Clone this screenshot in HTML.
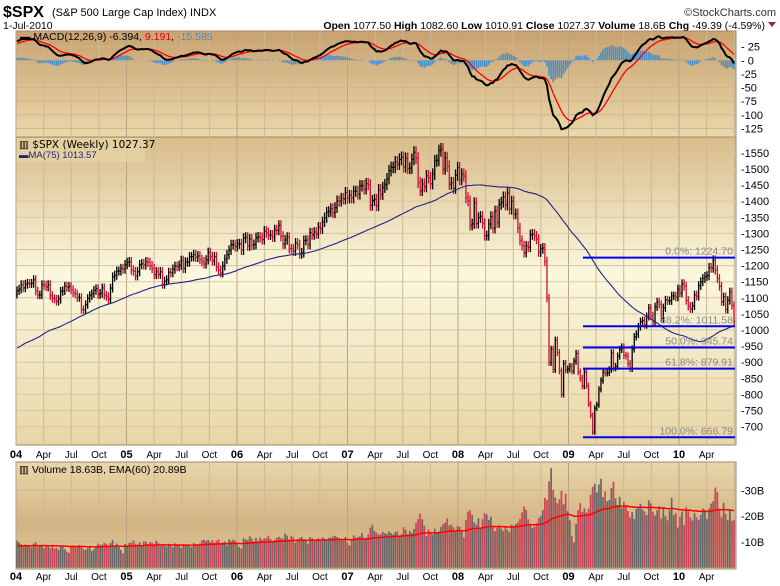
<!DOCTYPE html>
<html><head><meta charset="utf-8"><style>
body{margin:0;background:#fff;width:780px;height:586px;overflow:hidden;font-family:"Liberation Sans",sans-serif}
svg{display:block}
</style></head><body>
<svg id="chart" width="780" height="586" xmlns="http://www.w3.org/2000/svg" font-family="Liberation Sans, sans-serif">
<defs>
<linearGradient id="gPrice" x1="0" y1="0" x2="0" y2="1"><stop offset="0" stop-color="#d9bc89"/><stop offset="0.45" stop-color="#fbf8df"/><stop offset="1" stop-color="#e8d6a6"/></linearGradient>
<linearGradient id="gMacd" x1="0" y1="0" x2="0" y2="1"><stop offset="0" stop-color="#c8a270"/><stop offset="1" stop-color="#ead8ab"/></linearGradient>
<linearGradient id="gVol" x1="0" y1="0" x2="0" y2="1"><stop offset="0" stop-color="#e8d7aa"/><stop offset="0.6" stop-color="#d3b383"/><stop offset="1" stop-color="#e3cea0"/></linearGradient>
</defs>
<text x="3" y="17" font-size="16" font-weight="bold">$SPX</text>
<text x="52" y="16" font-size="11">(S&amp;P 500 Large Cap Index) INDX</text>
<text x="776" y="16" font-size="11" text-anchor="end" fill="#333">©StockCharts.com</text>
<text x="3" y="29" font-size="10.5">1-Jul-2010</text>
<text x="765" y="29" font-size="10.5" text-anchor="end"><tspan font-weight="bold">Open</tspan> 1077.50 <tspan font-weight="bold">High</tspan> 1082.60 <tspan font-weight="bold">Low</tspan> 1010.91 <tspan font-weight="bold">Close</tspan> 1027.37 <tspan font-weight="bold">Volume</tspan> 18.6B <tspan font-weight="bold">Chg</tspan> -49.39 (-4.59%)</text>
<path d="M768 22 L776 22 L772 27 Z" fill="#a0203a"/>
<rect x="16" y="31" width="720" height="106" fill="url(#gMacd)" stroke="#9a8a70"/>
<rect x="16" y="137" width="720" height="308" fill="url(#gPrice)" stroke="#9a8a70"/>
<rect x="16" y="462" width="720" height="107" fill="url(#gVol)" stroke="#9a8a70"/>
<g id="grid"></g><g id="series"></g><g id="labels"></g>
<text x="20" y="40" font-size="10.5"><tspan font-weight="bold">▬</tspan> MACD(12,26,9) -6.394, <tspan fill="#e00">9.191</tspan>, <tspan fill="#4a8fc8">-15.585</tspan></text>
<rect x="17" y="138" width="128" height="24" fill="#e9d8a9" opacity="0.6"/>
<text x="19" y="148" font-size="10.5" font-family="DejaVu Sans, sans-serif">▥ $SPX (Weekly) 1027.37</text>
<text x="19" y="158" font-size="9.5" fill="#22227a">▬MA(75) 1013.57</text>
<text x="19" y="473" font-size="10.5">▥ Volume 18.63B, EMA(60) 20.89B</text>
</svg>
<script>
const warmCloses=[1027,1007,989,989,921,847,852,864,908,928,940,917,893,889,846,827,800,835,884,897,900,909,930,936,902,890,895,880,927,901,861,855,829,834,851,841,828,858,895,863,868,890,893,917,930,944,933,963,987,995,981,976,985,998,981,990,980,990,993,1008,1021,1018,1036,997,1029,1038,1039,1028,1050,1059,1050,1035,1058,1061,1074,1088,1095,1111];
const closes=[
1122,1127,1141,1131,1142,1145,1144,1145,1156,1121,1109,1109,1141,1139,1134,1141,1107,1098,1096,1089,1095,1120,1122,1136,1132,1135,1125,1116,1112,1101,1101,1064,1063,1079,1098,1107,1113,1123,1128,1110,1114,1131,1108,1104,1095,1130,1165,1170,1183,1183,1191,1189,1203,1210,1212,
1186,1182,1168,1181,1203,1206,1202,1212,1210,1200,1191,1172,1181,1173,1181,1142,1152,1156,1179,1178,1189,1198,1197,1201,1216,1191,1211,1211,1227,1228,1234,1226,1230,1219,1212,1205,1218,1241,1228,1215,1228,1196,1186,1177,1199,1220,1234,1248,1265,1265,1259,1267,1268,1248,
1285,1288,1261,1283,1264,1266,1287,1289,1287,1281,1307,1302,1295,1295,1289,1311,1310,1325,1291,1267,1280,1288,1253,1252,1245,1270,1265,1236,1240,1278,1279,1266,1302,1296,1304,1299,1319,1314,1336,1349,1366,1368,1377,1364,1380,1401,1400,1409,1407,1427,1410,1418,
1410,1431,1431,1422,1448,1448,1438,1455,1451,1387,1402,1406,1386,1436,1421,1443,1452,1470,1495,1505,1505,1522,1515,1530,1536,1507,1533,1502,1503,1530,1552,1534,1458,1433,1453,1445,1479,1473,1454,1484,1525,1527,1557,1562,1500,1535,1509,1453,1458,1440,1481,1504,1467,1484,1478,
1411,1401,1325,1330,1395,1331,1349,1353,1331,1293,1293,1329,1352,1316,1370,1333,1390,1397,1413,1388,1425,1375,1400,1360,1361,1317,1278,1262,1240,1261,1257,1296,1298,1292,1282,1242,1252,1255,1213,1099,899,940,877,968,930,873,800,896,876,879,887,873,903,
927,870,850,826,869,827,770,735,683,757,768,816,843,870,866,867,877,929,882,887,919,940,947,921,919,896,880,941,979,987,1010,1026,1029,1016,1042,1068,1044,1026,1072,1087,1079,1036,1069,1093,1091,1091,1106,1106,1102,1127,
1115,1144,1136,1092,1074,1066,1075,1109,1105,1138,1150,1160,1166,1169,1194,1192,1217,1186,1160,1136,1088,1103,1064,1092,1118,1076,1027];
const volumes=[
10.5,9.8,9.2,8.6,9.0,8.8,8.5,7.9,9.4,9.9,8.2,8.8,8.9,7.7,8.5,8.3,7.6,8.9,7.5,7.8,7.0,8.4,8.7,7.2,6.3,5.8,8.1,8.6,7.9,8.4,8.8,8.3,7.3,6.9,7.6,7.8,6.6,7.2,8.0,9.4,8.9,9.0,9.7,9.3,8.7,9.6,10.8,8.6,9.4,8.1,7.0,5.6,9.3,8.8,9.6,
9.8,10.6,9.4,9.0,9.9,8.8,10.3,10.1,9.2,10.0,9.7,8.8,10.5,9.6,8.4,9.1,8.9,8.2,9.3,9.0,8.0,9.5,8.8,8.6,7.7,9.1,8.7,8.9,8.4,8.0,9.6,9.2,8.9,9.4,10.7,10.9,10.4,10.8,10.0,10.7,9.6,10.5,11.0,9.4,9.8,10.2,8.7,11.0,10.3,10.9,10.5,9.2,8.1,7.4,
11.5,11.0,10.8,12.2,11.3,10.2,11.6,10.5,11.8,10.9,11.3,11.6,12.4,11.2,10.4,10.9,11.7,12.0,11.5,11.3,13.3,12.5,11.0,12.4,11.8,9.7,11.2,11.6,12.0,11.1,10.5,9.3,11.9,11.5,10.3,11.1,11.4,10.8,11.8,11.3,10.9,11.6,11.7,12.1,12.4,11.9,11.5,11.0,10.6,11.9,9.8,8.7,
11.0,12.6,11.8,11.9,12.2,13.4,11.7,11.6,12.9,15.5,16.7,14.3,13.6,12.8,13.0,13.9,13.4,13.2,14.1,13.5,12.9,13.8,14.1,12.4,13.0,15.8,14.9,13.1,14.3,13.5,15.0,17.3,19.0,21.0,18.8,16.3,12.3,14.9,14.0,12.9,15.2,13.5,14.1,15.8,16.9,17.5,19.2,16.4,16.8,15.7,14.1,16.2,15.8,13.9,11.8,
18.5,21.8,22.3,20.5,17.6,16.7,19.2,15.4,18.8,21.3,20.7,18.5,19.8,16.1,14.2,15.5,16.5,15.2,14.3,16.0,14.7,13.8,16.7,16.0,17.0,17.6,19.0,21.5,23.8,22.4,18.8,16.9,15.4,15.9,17.3,19.3,20.1,22.4,27.1,26.3,33.5,38.6,30.2,27.3,25.0,26.6,29.8,24.6,28.7,22.0,18.4,12.4,9.8,
17.0,22.4,25.1,21.7,23.0,21.4,22.9,28.3,31.4,32.6,29.2,32.3,34.5,27.4,29.6,25.8,26.3,30.9,33.3,26.9,24.4,27.5,23.3,25.5,24.1,22.0,19.5,21.6,18.9,22.8,23.5,24.8,22.6,21.8,20.4,26.2,25.0,21.7,20.3,22.3,24.0,19.1,23.6,20.1,18.4,22.3,27.1,20.4,21.2,15.6,
19.8,21.8,16.5,23.6,22.0,19.6,18.3,21.2,19.5,18.5,20.5,23.0,22.5,18.9,23.0,24.9,25.8,31.1,29.4,22.4,19.6,25.2,20.9,18.4,22.5,18.2,18.6];
const priceTicks=[700,750,800,850,900,950,1000,1050,1100,1150,1200,1250,1300,1350,1400,1450,1500,1550];
const macdTicks=[25,0,-25,-50,-75,-100,-125];
const volTicks=[10,20,30];
const fibLevels=[1224.70,1011.58,945.74,879.91,666.79];
const fibLabels=["0.0%: 1224.70","38.2%: 1011.58","50.0%: 945.74","61.8%: 879.91","100.0%: 666.79"];
const quarterLabels=["Apr","Jul","Oct"];
const yearLabels=["04","05","06","07","08","09","10"];

const NS="http://www.w3.org/2000/svg";
function mk(tag,attrs,parent){const e=document.createElementNS(NS,tag);for(const k in attrs)e.setAttribute(k,attrs[k]);parent.appendChild(e);return e;}
const grid=document.getElementById('grid'),ser=document.getElementById('series'),lab=document.getElementById('labels');
const L=16,R=736;
const n=closes.length;
const xi=i=>17+i*(734-17)/(n-1);
const xDate=(yr,m)=>16+(yr+(m)/12)*110.5;
const yP=v=>330-(v-1000)*0.322;
const yM=v=>60.3-v*0.545;
const yV=v=>567.8-v*2.58;

for(let y=0;y<7;y++){for(let q=0;q<4;q++){const x=xDate(y,q*3);if(x>R)continue;
 [[31,137],[137,445],[462,569]].forEach(p=>{const g=mk('line',{x1:x,x2:x,y1:p[0],y2:p[1],stroke:q==0?'#b9a383':'#cdb993','stroke-width':1},grid);
 
 });
 if(x>728)continue;
 [458,580].forEach(ty=>{const t=mk('text',{x:x,y:ty,'font-size':q==0?11:10,'font-weight':q==0?'bold':'normal','text-anchor':'middle'},lab);
 t.textContent=q==0?yearLabels[y]:quarterLabels[q-1];
 
 });}}
priceTicks.forEach(v=>{const y=yP(v);const g=mk('line',{x1:L,x2:R,y1:y,y2:y,stroke:'#d8c79d'},grid);
 
 
 const t=mk('text',{x:741,y:y+4,'font-size':11},lab);t.textContent='-'+v;
 
 });
macdTicks.forEach(v=>{const y=yM(v);const g=mk('line',{x1:L,x2:R,y1:y,y2:y,stroke:'#cfb58a'},grid);
 
 
 const t=mk('text',{x:741,y:y+4,'font-size':11},lab);t.textContent=(v<0?'':'-')+(v<0?v:' '+v);
 
 });
volTicks.forEach(v=>{const y=yV(v);const g=mk('line',{x1:L,x2:R,y1:y,y2:y,stroke:'#cdb48a'},grid);
 
 
 const t=mk('text',{x:741,y:y+4,'font-size':11},lab);t.textContent='-'+v+'B';
 
 });

const all=warmCloses.concat(closes);const W=warmCloses.length;
let maPts=[];for(let i=0;i<n;i++){const j=W+i;let s=0,c=0;for(let k=Math.max(0,j-74);k<=j;k++){s+=all[k];c++;}maPts.push(xi(i).toFixed(1)+','+yP(s/c).toFixed(1));}
const bw=1.7;
for(let i=0;i<n;i++){const v=volumes[i]!==undefined?volumes[i]:10;const prev=i?closes[i-1]:warmCloses[W-1];
 const r=mk('rect',{x:xi(i)-bw/2,y:yV(v),width:bw,height:567.8-yV(v),fill:closes[i]<prev?'#cc4455':'#666'},ser);
 
 }
let e=volumes[0],emaPts=[];for(let i=0;i<n;i++){const v=volumes[i]!==undefined?volumes[i]:10;e=i?e+(v-e)*2/61:8.5;emaPts.push(xi(i).toFixed(1)+','+yV(e).toFixed(1));}
const ve=mk('polyline',{points:emaPts.join(' '),fill:'none',stroke:'#ff0000','stroke-width':1.5},ser);


let e12=all[0],e26=all[0],sig=0,mP=[],sP=[];
for(let j=0;j<all.length;j++){e12+=(all[j]-e12)*2/13;e26+=(all[j]-e26)*2/27;const m=e12-e26;sig+=(m-sig)*2/10;
 if(j>=W){const i=j-W,x=xi(i),h=m-sig;
  const b=mk('rect',{x:x-0.8,y:Math.min(yM(0),yM(h)),width:1.6,height:Math.abs(yM(h)-yM(0)),fill:'#4a8fc8'},ser);
  
  
  mP.push(x.toFixed(1)+','+yM(m).toFixed(1));sP.push(x.toFixed(1)+','+yM(sig).toFixed(1));}}
const sl=mk('polyline',{points:sP.join(' '),fill:'none',stroke:'#f00','stroke-width':1.3},ser);


const ml=mk('polyline',{points:mP.join(' '),fill:'none',stroke:'#000','stroke-width':2},ser);


for(let i=0;i<n;i++){const o=i?closes[i-1]:warmCloses[W-1],c=closes[i];const hi=Math.max(o,c)*1.012,lo=Math.min(o,c)*0.988;const x=xi(i);const col=c<o?'#cc1133':'#000';
 const g=mk('path',{d:`M${x} ${yP(hi)}V${yP(lo)}M${x-1} ${yP(o)}H${x}M${x} ${yP(c)}H${x+1}`,stroke:col,'stroke-width':1.3,fill:'none'},ser);
 
 }
const ma=mk('polyline',{points:maPts.join(' '),fill:'none',stroke:'#22228a','stroke-width':1.1},ser);


fibLevels.forEach((v,k)=>{const y=yP(v);const l=mk('line',{x1:583,x2:735,y1:y,y2:y,stroke:'#0000ee','stroke-width':2},ser);
 
 
 const t=mk('text',{x:733,y:y-3,'font-size':10.5,fill:'#888','text-anchor':'end'},ser);t.textContent=fibLabels[k];
 
 });
</script>
</body></html>
